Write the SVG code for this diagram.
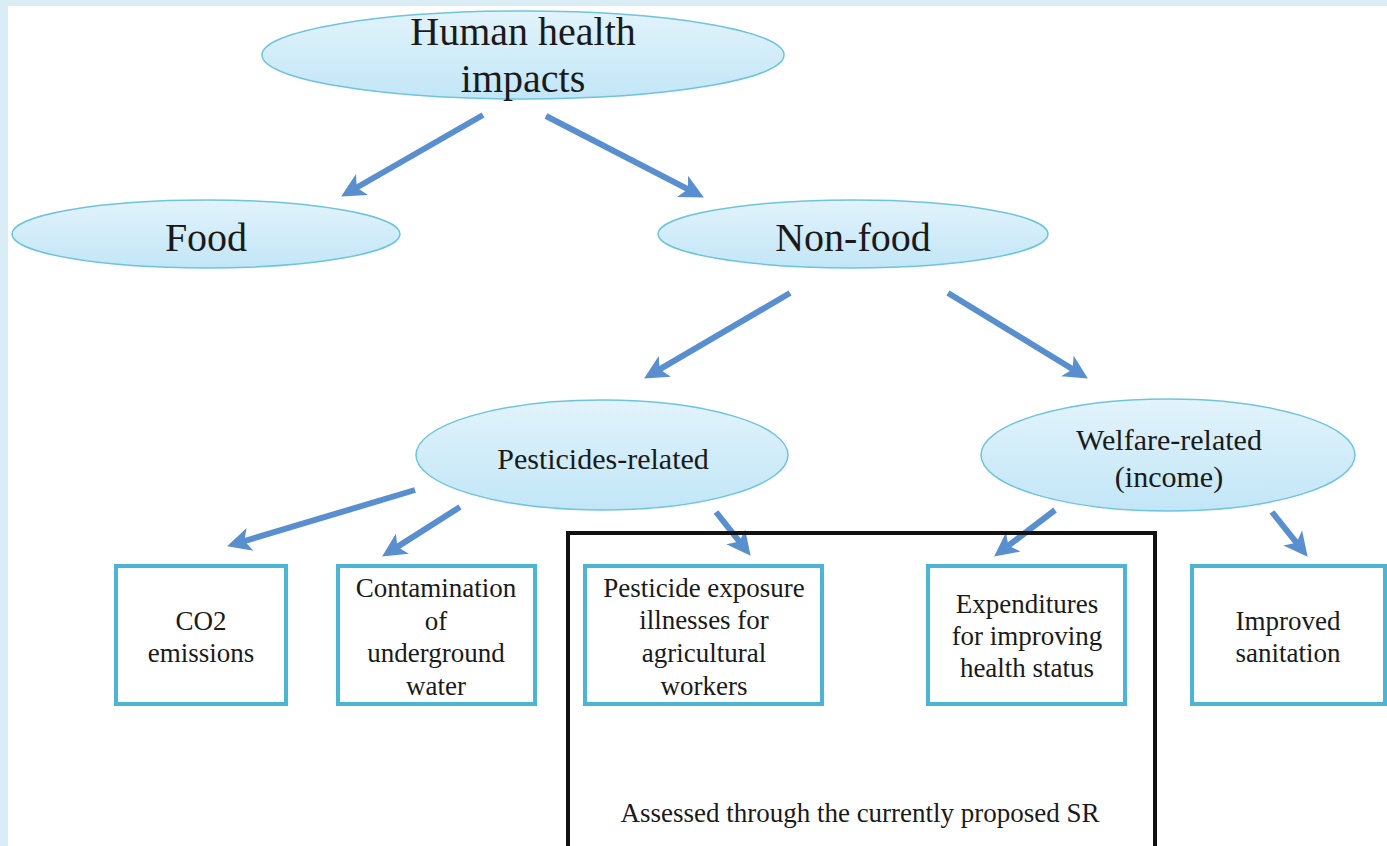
<svg xmlns="http://www.w3.org/2000/svg" width="1387" height="846" viewBox="0 0 1387 846">
  <style>
    .ell { fill: url(#eg); stroke: #6ec4dc; stroke-width: 1.5; }
    .box { fill: #ffffff; stroke: #4cb5d5; stroke-width: 4; }
    .t { font-family: "Liberation Serif", "Times New Roman", serif; fill: #1a1a1a; text-anchor: middle; }
    .big { font-size: 40px; }
    .mid { font-size: 30px; }
    .sm { font-size: 27px; }
    .arr { stroke: #5a8fcf; stroke-width: 6; fill: none; marker-end: url(#ah); }
  </style>
  <defs>
    <linearGradient id="eg" x1="0" y1="0" x2="0" y2="1">
      <stop offset="0" stop-color="#e2f3fb"/>
      <stop offset="1" stop-color="#c2e6f7"/>
    </linearGradient>
    <marker id="ah" markerUnits="userSpaceOnUse" markerWidth="26" markerHeight="26" viewBox="0 -13 26 26" refX="13" refY="0" orient="auto">
      <path d="M0,-12 L24,0 L0,12 L6,0 z" fill="#5a8fcf"/>
    </marker>
  </defs>
  <rect x="0" y="0" width="1387" height="846" fill="#daedf4"/>
  <rect x="8" y="6" width="1379" height="840" fill="#ffffff"/>

  <g id="connectors">
    <line class="arr" x1="483" y1="115" x2="350.7" y2="191.0"/>
    <line class="arr" x1="546" y1="116" x2="694.1" y2="192.4"/>
    <line class="arr" x1="790" y1="293" x2="653.6" y2="372.9"/>
    <line class="arr" x1="948" y1="293" x2="1078.5" y2="372.8"/>
    <line class="arr" x1="415" y1="490" x2="237.6" y2="543.1"/>
    <line class="arr" x1="460" y1="507" x2="391.4" y2="550.6"/>
    <line class="arr" x1="716" y1="512" x2="743.8" y2="547.1"/>
    <line class="arr" x1="1055" y1="510" x2="1002.9" y2="549.9"/>
    <line class="arr" x1="1272" y1="512" x2="1300.8" y2="548.2"/>
  </g>

  <g id="node-human">
    <ellipse class="ell" cx="523" cy="55" rx="261" ry="44"/>
    <text class="t big" x="523" y="45">Human health</text>
    <text class="t big" x="523" y="92">impacts</text>
  </g>
  <g id="node-food">
    <ellipse class="ell" cx="206" cy="234" rx="194" ry="34"/>
    <text class="t big" x="206" y="251">Food</text>
  </g>
  <g id="node-nonfood">
    <ellipse class="ell" cx="853" cy="234" rx="195" ry="34"/>
    <text class="t big" x="853" y="251">Non-food</text>
  </g>
  <g id="node-pesticides">
    <ellipse class="ell" cx="602" cy="455" rx="186" ry="55"/>
    <text class="t mid" x="603" y="469">Pesticides-related</text>
  </g>
  <g id="node-welfare">
    <ellipse class="ell" cx="1168" cy="455" rx="187" ry="56"/>
    <text class="t mid" x="1169" y="450">Welfare-related</text>
    <text class="t mid" x="1169" y="487">(income)</text>
  </g>

  <g id="group-assessed">
    <rect x="568" y="533" width="587" height="330" fill="none" stroke="#111111" stroke-width="4"/>
    <text class="t sm" x="860" y="822">Assessed through the currently proposed SR</text>
  </g>

  <g id="node-co2">
    <rect class="box" x="116" y="566" width="170" height="138"/>
    <text class="t sm" x="201" y="630">CO2</text>
    <text class="t sm" x="201" y="662">emissions</text>
  </g>
  <g id="node-contamination">
    <rect class="box" x="338" y="566" width="197" height="138"/>
    <text class="t sm" x="436" y="597">Contamination</text>
    <text class="t sm" x="436" y="630">of</text>
    <text class="t sm" x="436" y="662">underground</text>
    <text class="t sm" x="436" y="695">water</text>
  </g>
  <g id="node-exposure">
    <rect class="box" x="585" y="566" width="237" height="138"/>
    <text class="t sm" x="704" y="597">Pesticide exposure</text>
    <text class="t sm" x="704" y="629">illnesses for</text>
    <text class="t sm" x="704" y="662">agricultural</text>
    <text class="t sm" x="704" y="695">workers</text>
  </g>
  <g id="node-expenditures">
    <rect class="box" x="928" y="566" width="197" height="138"/>
    <text class="t sm" x="1027" y="613">Expenditures</text>
    <text class="t sm" x="1027" y="645">for improving</text>
    <text class="t sm" x="1027" y="677">health status</text>
  </g>
  <g id="node-sanitation">
    <rect class="box" x="1192" y="566" width="193" height="138"/>
    <text class="t sm" x="1288" y="630">Improved</text>
    <text class="t sm" x="1288" y="662">sanitation</text>
  </g>
</svg>
